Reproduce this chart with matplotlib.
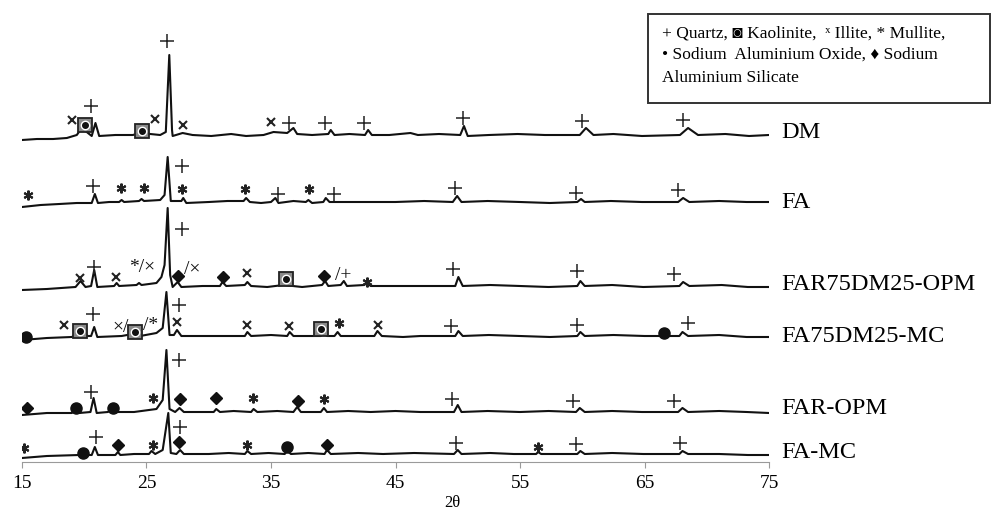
import matplotlib.pyplot as plt
from matplotlib.patches import Rectangle

plt.rcParams['font.family'] = ['Liberation Serif', 'DejaVu Serif']

# XRD patterns: 2theta and intensity (a.u., above own baseline)
dm_tt = [15.0, 16.2, 17.5, 18.6, 19.4, 19.8, 20.6, 20.9, 21.2, 22.5, 23.9, 24.5, 26.1, 26.55, 26.83, 27.05,
         27.1, 27.9, 28.7, 30.2, 31.8, 33.0, 34.4, 35.2, 36.3, 36.8, 37.1, 38.3, 39.6, 39.8, 40.1, 41.3,
         42.55, 42.8, 43.1, 44.5, 46.2, 46.8, 48.5, 50.2, 50.5, 50.8, 52.5, 54.8, 57.0, 59.8, 60.3, 60.9,
         62.5, 64.8, 67.85, 68.5, 69.3, 71.5, 73.4, 75.0]
dm_ii = [0, 1, 1, 2, 5, 12, 4, 17, 4, 5, 5, 7, 5, 8, 85, 10,
         4, 7, 5, 4, 6, 4, 5, 8, 7, 12, 6, 5, 6, 10, 5, 6,
         5, 10, 5, 5, 7, 5, 6, 5, 14, 4, 5, 6, 5, 5, 12, 5,
         6, 4, 5, 12, 5, 6, 4, 5]

fa_tt = [15.0, 16.5, 18.0, 19.4, 20.6, 20.85, 21.1, 22.0, 22.8, 23.0, 23.2, 24.4, 24.6, 24.8, 26.1, 26.45,
         26.7, 26.95, 27.8, 27.95, 28.2, 30.0, 31.5, 32.8, 33.0, 33.3, 34.2, 35.0, 35.35, 35.6, 36.8, 37.8,
         38.0, 38.3, 39.2, 39.4, 39.7, 42.0, 45.0, 47.3, 49.6, 49.95, 50.3, 52.4, 55.0, 57.4, 59.6, 59.9,
         60.2, 62.3, 64.8, 67.7, 68.1, 68.6, 71.0, 73.2, 75.0]
fa_ii = [0, 2, 3, 4, 4, 13, 4, 5, 5, 7, 5, 6, 8, 6, 7, 12,
         50, 6, 6, 9, 4, 5, 6, 6, 9, 5, 4, 5, 9, 4, 6, 5,
         7, 4, 5, 9, 5, 5, 5, 6, 5, 11, 5, 6, 5, 4, 5, 8,
         5, 6, 5, 5, 9, 5, 6, 5, 5]

far75_tt = [15.0, 17.0, 19.3, 19.7, 20.1, 20.55, 20.8, 21.05, 22.4, 22.6, 22.8, 24.2, 24.4, 24.6, 25.8, 26.2,
            26.45, 26.7, 26.9, 27.1, 27.5, 27.8, 29.5, 30.9, 31.1, 31.4, 32.9, 33.1, 33.4, 34.7, 36.0, 37.5,
            39.1, 39.35, 39.6, 40.6, 40.85, 41.1, 42.5, 42.7, 43.0, 45.0, 47.0, 49.8, 50.05, 50.4, 52.6, 55.0,
            57.3, 59.6, 59.85, 60.2, 62.4, 64.9, 67.8, 68.1, 68.6, 71.2, 73.3, 75.0]
far75_ii = [0, 1, 3, 9, 3, 4, 20, 3, 4, 7, 4, 5, 7, 5, 7, 13,
            25, 82, 15, 3, 8, 3, 4, 4, 8, 4, 5, 8, 4, 3, 5, 3,
            5, 9, 4, 5, 9, 4, 5, 8, 4, 4, 4, 4, 13, 4, 5, 4,
            3, 4, 9, 4, 5, 3, 4, 8, 4, 5, 3, 3]

fa75_tt = [15.0, 17.0, 19.0, 19.7, 20.3, 20.55, 20.8, 21.05, 23.0, 23.9, 24.5, 25.8, 26.3, 26.6, 26.85, 27.2,
           27.45, 27.8, 30.0, 32.9, 33.1, 33.4, 35.0, 36.3, 36.5, 36.8, 39.0, 39.2, 39.5, 40.1, 40.35, 40.6,
           43.3, 43.55, 43.9, 45.6, 47.0, 49.8, 50.05, 50.4, 52.5, 55.0, 57.4, 59.6, 59.85, 60.2, 62.5, 65.0,
           67.8, 68.05, 68.5, 71.0, 73.2, 75.0]
fa75_ii = [0, 2, 3, 8, 4, 4, 13, 3, 4, 6, 4, 7, 12, 48, 5, 5,
           10, 4, 4, 4, 8, 4, 5, 4, 8, 4, 4, 7, 4, 4, 8, 4,
           4, 9, 4, 3, 4, 4, 9, 4, 5, 4, 3, 4, 8, 4, 5, 4,
           4, 8, 4, 5, 3, 3]

faropm_tt = [15.0, 17.0, 19.0, 19.3, 19.6, 20.5, 20.75, 21.0, 21.9, 22.2, 22.5, 24.0, 25.8, 26.3, 26.6, 26.85,
             27.3, 27.65, 28.0, 30.4, 30.6, 30.9, 32.0, 33.4, 33.6, 33.9, 35.5, 36.8, 37.1, 37.4, 39.0, 39.25,
             39.5, 41.2, 43.0, 45.0, 47.0, 49.7, 50.0, 50.3, 52.4, 55.0, 57.3, 59.5, 59.8, 60.2, 62.4, 64.8,
             67.7, 68.05, 68.5, 71.0, 73.2, 75.0]
faropm_ii = [0, 2, 2, 5, 2, 3, 17, 2, 3, 6, 3, 3, 6, 15, 65, 6,
             3, 7, 3, 3, 6, 3, 4, 3, 6, 3, 4, 3, 8, 3, 3, 7,
             3, 4, 3, 4, 3, 3, 10, 3, 4, 3, 4, 3, 7, 3, 4, 3,
             3, 7, 3, 4, 3, 2]

famc_tt = [15.0, 17.0, 19.6, 19.9, 20.2, 20.6, 20.85, 21.1, 22.5, 22.7, 22.9, 24.0, 25.2, 25.4, 25.7, 26.3,
           26.75, 26.95, 27.4, 27.7, 28.0, 30.0, 31.6, 32.9, 33.1, 33.4, 34.8, 36.1, 36.3, 36.6, 38.0, 39.3,
           39.5, 39.8, 42.0, 44.0, 46.5, 49.7, 50.0, 50.3, 52.6, 54.5, 56.3, 56.45, 56.7, 59.6, 59.85, 60.2,
           62.4, 64.9, 67.8, 68.05, 68.5, 71.0, 73.3, 75.0]
famc_ii = [0, 2, 3, 6, 3, 3, 11, 3, 3, 6, 3, 4, 4, 7, 4, 8,
           45, 5, 4, 8, 4, 4, 5, 4, 7, 4, 5, 4, 7, 4, 5, 4,
           8, 4, 5, 4, 5, 4, 8, 4, 5, 4, 4, 6, 4, 4, 7, 4,
           5, 4, 4, 7, 4, 4, 3, 3]

samples = ["DM", "FA", "FAR75DM25-OPM", "FA75DM25-MC", "FAR-OPM", "FA-MC"]
patterns_tt = [dm_tt, fa_tt, far75_tt, fa75_tt, faropm_tt, famc_tt]
patterns_ii = [dm_ii, fa_ii, far75_ii, fa75_ii, faropm_ii, famc_ii]
offsets = [322, 255, 172, 122, 47, 4]
label_y = [329, 260, 177, 126, 54, 9]

# phase marks: (symbol, 2theta, height above baseline)
# + quartz, k kaolinite, x illite, * mullite, o Na-Al oxide, d Na-Al silicate
dm_marks = [("x", 19.02, 20), ("k", 20.06, 15), ("+", 20.54, 34), ("k", 24.64, 9), ("x", 25.68, 21),
            ("+", 26.65, 99), ("x", 27.93, 15), ("x", 35.0, 18), ("+", 36.45, 17), ("+", 39.34, 17),
            ("+", 42.47, 17), ("+", 50.42, 22), ("+", 59.98, 19), ("+", 68.09, 20)]
fa_marks = [("*", 15.48, 12), ("+", 20.70, 21), ("*", 22.95, 19), ("*", 24.80, 19), ("+", 27.85, 41),
            ("*", 27.85, 18), ("*", 32.91, 18), ("+", 35.56, 13), ("*", 38.05, 18), ("+", 40.06, 13),
            ("+", 49.78, 19), ("+", 59.50, 14), ("+", 67.69, 17)]
far75_marks = [("x", 19.66, 12), ("+", 20.78, 23), ("x", 22.55, 13), ("*/×", 24.64, 22), ("+", 27.85, 61),
               ("d", 27.53, 14), ("/×", 28.65, 20), ("d", 31.14, 13), ("x", 33.07, 17), ("k", 36.20, 11),
               ("d", 39.26, 14), ("/+", 40.78, 15), ("*", 42.71, 8), ("+", 49.62, 21), ("+", 59.58, 19),
               ("+", 67.37, 16)]
fa75_marks = [("o", 15.32, 3), ("x", 18.37, 15), ("k", 19.66, 9), ("+", 20.70, 26), ("×/", 22.91, 13),
              ("k", 24.08, 8), ("/*", 25.32, 14), ("x", 27.45, 18), ("+", 27.61, 35), ("x", 33.07, 15),
              ("x", 36.45, 14), ("k", 39.02, 11), ("*", 40.46, 17), ("x", 43.59, 15), ("+", 49.46, 14),
              ("+", 59.58, 15), ("o", 66.57, 7), ("+", 68.49, 17)]
faropm_marks = [("d", 15.40, 7), ("o", 19.34, 7), ("+", 20.54, 23), ("o", 22.31, 7), ("*", 25.52, 17),
                ("+", 27.61, 55), ("d", 27.69, 16), ("d", 30.58, 17), ("*", 33.55, 17), ("d", 37.17, 14),
                ("*", 39.26, 16), ("+", 49.54, 16), ("+", 59.26, 14), ("+", 67.37, 14)]
famc_marks = [("*", 15.16, 10), ("o", 19.90, 5), ("+", 20.94, 21), ("d", 22.71, 13), ("*", 25.52, 13),
              ("+", 27.69, 31), ("d", 27.61, 16), ("*", 33.07, 13), ("o", 36.29, 11), ("d", 39.50, 13),
              ("+", 49.86, 15), ("*", 56.45, 11), ("+", 59.50, 14), ("+", 67.85, 15)]
all_marks = [dm_marks, fa_marks, far75_marks, fa75_marks, faropm_marks, famc_marks]

fig = plt.figure(figsize=(9.92, 5.13), dpi=100)
ax = fig.add_axes([22 / 992, 51 / 513, 747 / 992, 462 / 513])

for tt, ii, off, name, ly in zip(patterns_tt, patterns_ii, offsets, samples, label_y):
    ax.plot(tt, [v + off for v in ii], color="#111111", lw=1.5, solid_joinstyle="round")
    ax.text(76.0, ly, name, fontsize=17.5, ha="left", va="center", clip_on=False)

for marks, off in zip(all_marks, offsets):
    for kind, t, h in marks:
        y = off + h
        if kind == "+":
            ax.plot(t, y, marker="+", ms=9.5, mew=1.1, color="#222222")
        elif kind == "x":
            ax.plot(t, y, marker="x", ms=5.5, mew=1.5, color="#222222")
        elif kind == "*":
            ax.plot(t, y, marker=(6, 2, 0), ms=7, mew=1.5, color="#222222")
        elif kind == "o":
            ax.plot(t, y, marker="o", ms=8, color="#111111")
        elif kind == "d":
            ax.plot(t, y, marker="D", ms=6.5, color="#111111")
        elif kind == "k":
            ax.plot(t, y, marker="s", ms=9.5, mfc="#8a8a8a", mec="#222222", mew=1.3)
            ax.plot(t, y, marker="o", ms=6, mfc="white", mec="white")
            ax.plot(t, y, marker="o", ms=4, color="#111111")
        else:
            ax.text(t, y, kind, fontsize=14, ha="center", va="center", color="#111111")

ax.set_xlim(15, 75)
ax.set_ylim(0, 462)
ax.set_xticks([15, 25, 35, 45, 55, 65, 75])
ax.set_yticks([])
for side in ["left", "top", "right"]:
    ax.spines[side].set_visible(False)
ax.spines["bottom"].set_color("#9a9a9a")
ax.tick_params(axis="x", direction="out", length=4, color="#9a9a9a", labelsize=14, pad=5)
ax.patch.set_alpha(0)

fig.text(452 / 992, 1 - 503 / 513, "2θ", fontsize=12, ha="center", va="center")

fig.patches.append(Rectangle((648 / 992, 1 - 103 / 513), 342 / 992, 89 / 513, transform=fig.transFigure,
                             facecolor="white", edgecolor="#333333", lw=1.4))
fig.text(662 / 992, 1 - 33 / 513, "+ Quartz, ◙ Kaolinite,  ˣ Illite, * Mullite,", fontsize=12.5, va="center")
fig.text(662 / 992, 1 - 55 / 513, "• Sodium  Aluminium Oxide, ♦ Sodium", fontsize=12.5, va="center")
fig.text(662 / 992, 1 - 78 / 513, "Aluminium Silicate", fontsize=12.5, va="center")

plt.savefig("out.png", dpi=100)
